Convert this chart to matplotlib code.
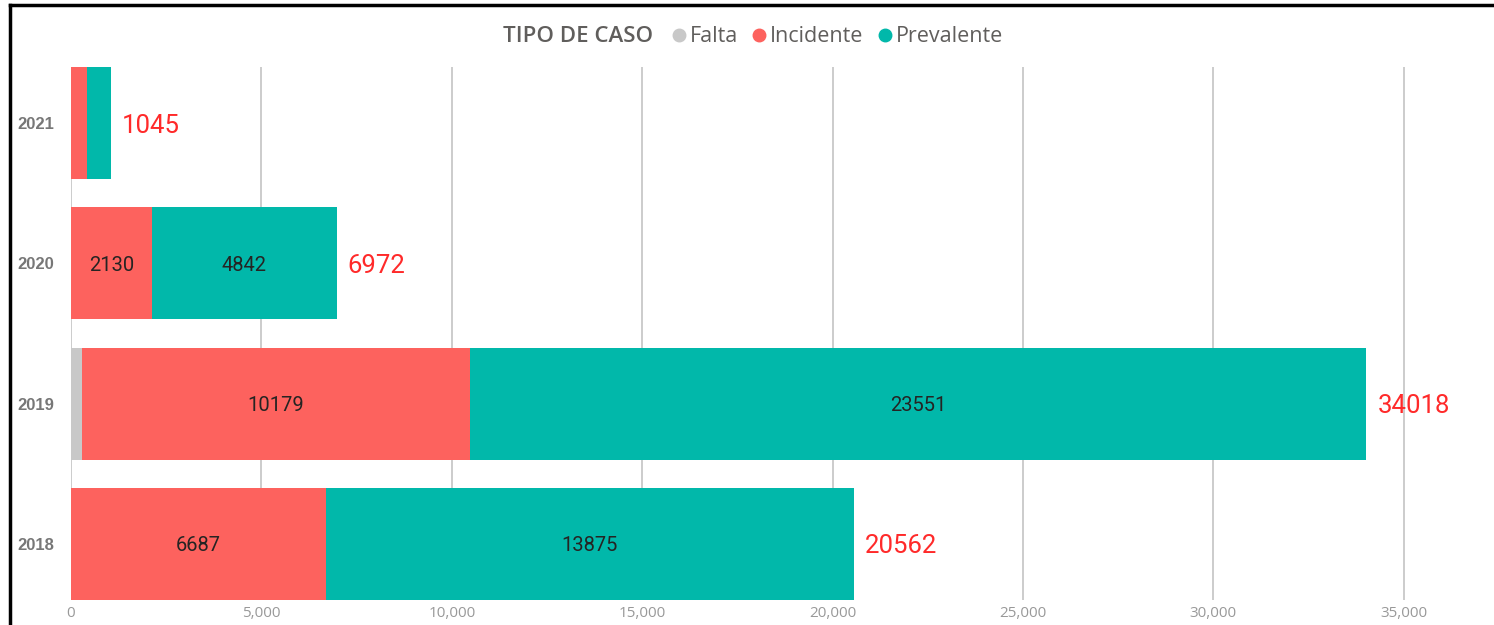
import numpy as np
import matplotlib.pyplot as plt
from matplotlib.lines import Line2D

#---- data ----
years      = ["2021", "2020", "2019", "2018"]
falta      = [0, 0, 288, 0]
incidente  = [420, 2130, 10179, 6687]
prevalente = [625, 4842, 23551, 13875]
totals     = [1045, 6972, 34018, 20562]
x_ticks    = [0, 5000, 10000, 15000, 20000, 25000, 30000, 35000]

c_falta = "#C8C8C8"
c_inc   = "#FD625E"
c_prev  = "#01B8AA"

#---- figure ----
fig = plt.figure(figsize=(14.94, 6.25), dpi=100)
ax  = fig.add_axes([71/1494, 25/625, 1409/1494, 533/625])

y_pos = np.arange(len(years))
falta_arr = np.array(falta)
inc_arr   = np.array(incidente)
prev_arr  = np.array(prevalente)

ax.barh(y_pos, falta_arr, height=0.8, color=c_falta, zorder=3)
ax.barh(y_pos, inc_arr, left=falta_arr, height=0.8, color=c_inc, zorder=3)
ax.barh(y_pos, prev_arr, left=falta_arr+inc_arr, height=0.8, color=c_prev, zorder=3)

#---- labels inside ----
for i in range(len(years)):
  if inc_arr[i] > 1500:
    ax.text(falta_arr[i] + inc_arr[i]/2, y_pos[i], str(inc_arr[i]), ha="center", va="center_baseline",
            fontsize=14.5, color="#252423", family="Roboto", zorder=4)
  if prev_arr[i] > 1500:
    ax.text(falta_arr[i] + inc_arr[i] + prev_arr[i]/2, y_pos[i], str(prev_arr[i]), ha="center", va="center_baseline",
            fontsize=14.5, color="#252423", family="Roboto", zorder=4)
  ax.annotate(str(totals[i]), xy=(totals[i], y_pos[i]), xytext=(11, 0), textcoords="offset pixels",
              ha="left", va="center_baseline", fontsize=18.5, color="#FF2A2A", family="Roboto")

#---- axes ----
ax.set_xlim(0, 37000)
ax.set_ylim(len(years)-0.6, -0.4)
ax.set_yticks(y_pos)
ax.set_yticklabels(years, fontsize=12, fontweight="bold", color="#777777", family="Liberation Sans")
ax.set_xticks(x_ticks)
ax.set_xticklabels(["{:,}".format(v) for v in x_ticks], fontsize=11, color="#999999", family="Open Sans")
ax.tick_params(axis="both", length=0)
ax.tick_params(axis="x", pad=4)
ax.tick_params(axis="y", pad=12)
ax.grid(axis="x", color="#C8C8C8", linewidth=1.3, zorder=0)
for s in ax.spines.values():
  s.set_visible(False)

#---- legend ----
fig.text(503/1494, 1-37/625, "TIPO DE CASO", ha="left", va="center", fontsize=16,
         color="#605E5C", family="Open Sans", fontweight="semibold")
handles = [Line2D([], [], marker="o", linestyle="", markersize=9, color=c) for c in [c_falta, c_inc, c_prev]]
fig.legend(handles, ["Falta", "Incidente", "Prevalente"], loc="center left",
           bbox_to_anchor=(668/1494, 1-37/625), ncol=3, frameon=False,
           handletextpad=0.0, columnspacing=0.5, handlelength=1.0,
           prop={"family": "Open Sans", "size": 15.5}, labelcolor="#605E5C", borderaxespad=0, borderpad=0)

#---- frame ----
fig.add_artist(Line2D([10/1494, 10/1494], [0, 1-5/625], color="black", linewidth=2.5))
fig.add_artist(Line2D([10/1494, 1], [1-5/625, 1-5/625], color="black", linewidth=2.5))

fig.savefig("out.png", dpi=100)
